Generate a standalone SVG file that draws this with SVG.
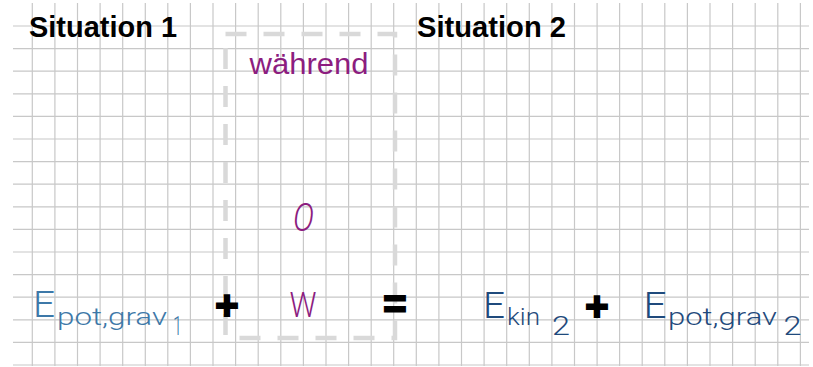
<svg xmlns="http://www.w3.org/2000/svg" width="813" height="367" viewBox="0 0 813 367">
<defs>
<style>
.grid{stroke:#c8c8c8;stroke-width:1.2;fill:none}
.title{font-family:"Liberation Sans",Arial,sans-serif;font-weight:bold;font-size:29px;fill:#000}
.box{fill:none;stroke:#d9d9d9;stroke-width:4.5;stroke-dasharray:21 17}
.purple{fill:#8c1d80}
.hand{font-family:Roboto,"Liberation Sans",sans-serif;font-weight:300}
.blue1{fill:#3d78a8}
.blue2{fill:#1f4a7c}
.op{font-family:"Liberation Sans",Arial,sans-serif;font-weight:bold;font-size:40px;fill:#000;stroke:#000;stroke-width:2;text-anchor:middle}
</style>
</defs>
<rect width="813" height="367" fill="#fff"/>
<g id="grid" class="grid">
<path d="M32.3 3V366M54.9 3V366M77.5 3V366M100.1 3V366M122.7 3V366M145.3 3V366M167.8 3V366M190.4 3V366M213 3V366M235.6 3V366M258.2 3V366M280.8 3V366M303.4 3V366M326 3V366M348.6 3V366M371.2 3V366M393.7 3V366M416.3 3V366M438.9 3V366M461.5 3V366M484.1 3V366M506.7 3V366M529.3 3V366M551.9 3V366M574.5 3V366M597.1 3V366M619.6 3V366M642.2 3V366M664.8 3V366M687.4 3V366M710 3V366M732.6 3V366M755.2 3V366M777.8 3V366M800.4 3V366"/>
<path d="M13 26H809M13 48.6H809M13 71.2H809M13 93.8H809M13 116.4H809M13 139H809M13 161.6H809M13 184.2H809M13 206.8H809M13 229.4H809M13 252H809M13 274.6H809M13 297.2H809M13 319.8H809M13 342.4H809M13 365H809"/>
</g>
<g id="situation1">
<text class="title" x="29" y="36.5" textLength="148" lengthAdjust="spacingAndGlyphs">Situation 1</text>
</g>
<g id="situation2">
<text class="title" x="417" y="36.5" textLength="149" lengthAdjust="spacingAndGlyphs">Situation 2</text>
</g>
<g id="waehrend">
<rect class="box" x="225.5" y="34" width="169.5" height="304"/>
<text class="purple" x="249.5" y="74" font-family="Liberation Sans,Arial,sans-serif" font-size="30" textLength="119" lengthAdjust="spacingAndGlyphs">während</text>
<text class="purple hand" x="293" y="231" font-size="38" font-style="italic" textLength="21" lengthAdjust="spacingAndGlyphs">O</text>
<text class="purple hand" x="289.5" y="317" font-size="35" textLength="27" lengthAdjust="spacingAndGlyphs">W</text>
</g>
<g id="epotgrav1" class="hand blue1">
<text x="33" y="316.5" font-size="36" textLength="22" lengthAdjust="spacingAndGlyphs">E</text>
<text x="57" y="325" font-size="23" textLength="110" lengthAdjust="spacingAndGlyphs">pot,grav</text>
<text x="173" y="335" font-size="25" textLength="9" lengthAdjust="spacingAndGlyphs">1</text>
</g>
<g id="ekin2" class="hand blue2">
<text x="483" y="318" font-size="37" textLength="22" lengthAdjust="spacingAndGlyphs">E</text>
<text x="507" y="325" font-size="23" textLength="33" lengthAdjust="spacingAndGlyphs">kin</text>
<text x="552" y="335" font-size="25" textLength="18" lengthAdjust="spacingAndGlyphs">2</text>
</g>
<g id="epotgrav2" class="hand blue2">
<text x="643.5" y="318" font-size="37" textLength="23" lengthAdjust="spacingAndGlyphs">E</text>
<text x="668" y="325" font-size="23" textLength="109" lengthAdjust="spacingAndGlyphs">pot,grav</text>
<text x="783.5" y="335" font-size="25" textLength="18" lengthAdjust="spacingAndGlyphs">2</text>
</g>
<g id="operators">
<text class="op" x="227" y="319">+</text>
<text class="op" x="395" y="318">=</text>
<text class="op" x="597" y="320">+</text>
</g>
</svg>
